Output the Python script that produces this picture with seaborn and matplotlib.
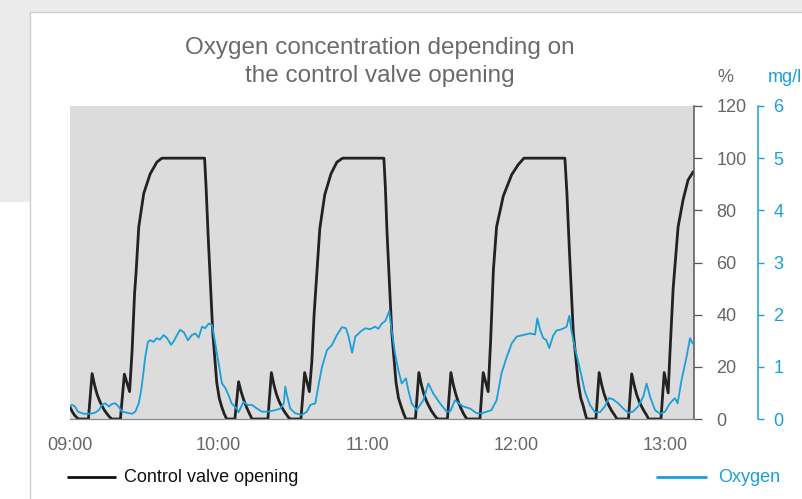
import matplotlib
matplotlib.use("Agg")
import matplotlib.pyplot as plt
from matplotlib.patches import Rectangle
from matplotlib.lines import Line2D
import seaborn as sns
import pandas as pd

# valve opening (%), minutes after 09:00
valve_min = [
    0.0, 1.0, 2.0, 3.0, 3.7, 7.6, 9.1, 10.1, 11.1, 12.1, 13.1, 14.1, 15.1, 16.1, 17.1,
    20.5, 22.1, 24.2, 25.2, 26.2, 26.8, 27.9, 29.9, 32.5, 35.2, 37.2, 54.4, 55.0, 55.8,
    56.7, 57.7, 59.3, 60.3, 61.3, 62.3, 63.3,
    66.6, 68.1, 69.1, 70.1, 71.1, 72.1, 73.0, 73.5, 79.9, 81.3, 82.3, 83.3, 84.3, 85.3,
    86.3, 87.3, 88.3, 89.0, 93.2, 94.7, 96.6, 97.6, 98.5, 99.7, 100.8, 102.8, 105.3,
    107.7, 110.0, 126.6, 127.2, 127.9, 128.8, 129.8, 131.5, 132.5, 133.6, 134.6, 135.5,
    139.3, 140.7, 141.7, 142.7, 143.7, 144.7, 145.7, 146.7, 147.7, 148.4, 152.2, 153.6,
    154.6, 155.6, 156.6, 157.6, 158.6, 159.6, 160.2, 165.3, 166.6, 168.6, 169.6, 170.7,
    172.0, 174.7, 178.1, 180.7, 183.0, 199.5, 200.3, 201.3, 201.9, 202.9, 204.9, 205.9,
    206.9, 207.7, 208.3,
    212.0, 213.3, 214.3, 215.3, 216.3, 217.3, 218.3, 219.3, 220.3, 220.8, 225.1, 226.4,
    227.4, 228.4, 229.4, 230.4, 231.4, 232.4, 233.2, 238.2, 239.5, 241.1, 241.8, 243.1,
    245.1, 247.1, 249.1, 251.2,
]
valve_pct = [
    5, 3, 1.5, 0.5, 0, 0, 17.4, 13, 9.5, 7, 5, 3.3, 2, 0.8, 0,
    0, 17.2, 10.5, 26, 48, 56, 73.7, 86.5, 94, 98.5, 100, 100, 89, 71,
    53, 33, 14, 8, 4.7, 2, 0,
    0, 14.3, 10.5, 7.5, 5, 2.8, 1, 0, 0, 17.8, 13.2, 9.6, 7, 5,
    3.2, 1.8, 0.5, 0, 0, 17.8, 10.5, 22, 40, 57.5, 73, 86, 94,
    98.5, 100, 100, 89, 71, 53, 33, 14, 8, 4.7, 2, 0,
    0, 17.8, 13.2, 9.6, 7, 5, 3.2, 1.8, 0.5, 0, 0, 17.8,
    13, 9.4, 6.5, 4.2, 2.2, 0.6, 0, 0, 17.8, 10.5, 30, 57,
    73.7, 85.5, 93.7, 97.5, 100, 100, 87, 65, 53, 33, 13.8, 8,
    5, 2, 0,
    0, 17.8, 13.2, 9.6, 7, 5, 3.2, 1.8, 0.3, 0, 0, 17.3,
    13, 9.4, 6.8, 4.8, 3, 1.5, 0, 0, 17.8, 10, 25, 50,
    73.7, 84, 91.6, 94.8,
]

# oxygen (mg/l), minutes after 09:00
oxy_min = [
    0.0, 1.0, 2.2, 3.4, 5.8, 8.3, 10.3, 11.8, 13.1, 14.4, 15.9, 17.1, 18.4, 19.8, 21.1,
    23.2, 25.2, 26.5, 27.9, 28.9, 29.9, 30.5, 31.6, 32.5, 33.8, 35.2, 36.4, 37.9, 39.3,
    40.9, 42.1, 43.3, 44.6, 46.1, 47.7, 49.3, 50.7, 52.0, 53.4, 54.6, 56.1, 57.4, 58.7,
    60.1, 61.4, 62.7, 64.1, 65.3, 67.3, 68.1, 70.1, 71.7, 73.5, 75.5, 77.5, 79.9, 82.9,
    84.9, 86.3, 86.9, 87.6, 88.9, 90.9, 93.6, 95.6, 97.0, 99.0, 100.3, 101.7, 103.7,
    105.7, 107.7, 109.7, 111.3, 112.4, 113.8, 115.1, 117.1, 119.1, 121.0, 123.1, 124.4,
    125.8, 127.2, 128.8, 129.7, 131.1, 132.4, 133.8, 135.5, 136.4, 137.8, 139.8, 142.5,
    144.5, 146.5, 149.2, 151.9, 153.4, 155.2, 156.8, 158.6, 161.3, 164.0, 166.1, 168.0,
    169.9, 172.0, 174.0, 176.1, 178.1, 180.1, 182.7, 185.4, 187.5, 188.4, 189.5, 190.8,
    191.9, 193.2, 194.8, 196.2, 197.5, 199.1, 200.2, 201.3, 202.2, 203.6, 205.6, 207.6,
    209.6, 211.6, 213.6, 215.6, 217.2, 218.8, 221.0, 223.0, 225.0, 226.9, 229.0, 231.1,
    232.4, 233.8, 235.8, 237.8, 239.8, 241.8, 243.8, 244.9, 246.5, 248.5, 249.9, 250.9,
]
oxy_mgl = [
    0.24, 0.27, 0.24, 0.14, 0.10, 0.10, 0.12, 0.17, 0.27, 0.30, 0.24, 0.29, 0.30, 0.24, 0.14,
    0.12, 0.10, 0.14, 0.30, 0.56, 0.94, 1.19, 1.48, 1.51, 1.48, 1.55, 1.52, 1.61, 1.55,
    1.42, 1.50, 1.61, 1.71, 1.66, 1.51, 1.61, 1.64, 1.56, 1.77, 1.74, 1.83, 1.80, 1.45,
    1.05, 0.68, 0.60, 0.45, 0.30, 0.20, 0.13, 0.33, 0.27, 0.27, 0.20, 0.14, 0.14, 0.17,
    0.20, 0.30, 0.62, 0.45, 0.20, 0.11, 0.08, 0.14, 0.27, 0.30, 0.65, 1.00, 1.32,
    1.42, 1.61, 1.76, 1.74, 1.58, 1.27, 1.58, 1.67, 1.74, 1.72, 1.77, 1.73,
    1.83, 1.88, 2.07, 1.71, 1.26, 0.94, 0.68, 0.78, 0.56, 0.30, 0.17, 0.36,
    0.68, 0.49, 0.30, 0.14, 0.15, 0.36, 0.30, 0.24, 0.20, 0.11, 0.11, 0.14,
    0.17, 0.36, 0.88, 1.19, 1.45, 1.58, 1.61, 1.64, 1.62, 1.93, 1.71, 1.55,
    1.52, 1.36, 1.60, 1.70, 1.71, 1.74, 1.77, 1.98, 1.68, 1.35, 0.95, 0.52,
    0.27, 0.13, 0.13, 0.24, 0.40, 0.38, 0.30, 0.20, 0.12, 0.14, 0.24, 0.43,
    0.68, 0.43, 0.17, 0.10, 0.14, 0.30, 0.40, 0.30, 0.75, 1.19, 1.55, 1.45,
]

hour_ticks = [0, 60, 120, 180, 240]
hour_labels = ["09:00", "10:00", "11:00", "12:00", "13:00"]
pct_ticks = [0, 20, 40, 60, 80, 100, 120]
mgl_ticks = [0, 1, 2, 3, 4, 5, 6]

BLUE = "#1a9fd9"
GREY_TXT = "#666666"

sns.set_style("white")
plt.rcParams["font.family"] = ["Liberation Sans", "DejaVu Sans"]

W, H = 802, 499
fig = plt.figure(figsize=(W / 100, H / 100), dpi=100, facecolor="white")

# page background + card
fig.patches.append(Rectangle((0, 1 - 202 / H), 1, 202 / H, transform=fig.transFigure,
                             facecolor="#ebebeb", edgecolor="none", zorder=-3))
fig.patches.append(Rectangle((30.5 / W, -0.05), 1, 1.05 - 12 / H, transform=fig.transFigure,
                             facecolor="white", edgecolor="#cfcfcf", linewidth=1, zorder=-2))

ax = fig.add_axes([69.5 / W, 1 - 419 / H, (694 - 69.5) / W, (419 - 106) / H])
ax.set_facecolor("#dcdcdc")
ax2 = ax.twinx()

valve = pd.DataFrame({"t": valve_min, "v": valve_pct})
oxy = pd.DataFrame({"t": oxy_min, "o": oxy_mgl})

sns.lineplot(data=valve, x="t", y="v", ax=ax, color="#222222", linewidth=2.0,
             estimator=None, sort=False, solid_joinstyle="round")
ax.set_xlim(0, 251.5)
ax.set_ylim(0, 120)
ax.set_xlabel("")
ax.set_ylabel("")

for s in ["left", "top"]:
    ax.spines[s].set_visible(False)
ax.spines["right"].set_color("#555555")
ax.spines["right"].set_linewidth(1.1)
ax.spines["bottom"].set_color("#8a8a8a")
ax.spines["bottom"].set_linewidth(0.9)

ax.set_xticks(hour_ticks)
ax.set_xticklabels(hour_labels)
ax.tick_params(axis="x", direction="out", length=6, width=0.8, color="#999999",
               pad=7, labelsize=13, labelcolor=GREY_TXT)
ax.yaxis.tick_right()
ax.set_yticks(pct_ticks)
ax.tick_params(axis="y", which="both", left=False, labelleft=False, right=True,
               labelright=True, direction="out", length=6, width=0.9,
               color="#555555", pad=10, labelsize=13, labelcolor=GREY_TXT)

sns.lineplot(data=oxy, x="t", y="o", ax=ax2, color=BLUE, linewidth=1.3,
             estimator=None, sort=False)
ax2.set_ylim(0, 6)
ax2.set_xlim(0, 251.5)
ax2.set_ylabel("")
ax2.set_yticks(mgl_ticks)
for s in ["left", "top", "bottom"]:
    ax2.spines[s].set_visible(False)
ax2.spines["right"].set_position(("outward", 46))
ax2.spines["right"].set_color(BLUE)
ax2.spines["right"].set_linewidth(1.1)
ax2.tick_params(axis="y", direction="out", length=4, width=1, color=BLUE, pad=7,
                labelsize=13, labelcolor=BLUE)

# axis unit labels
fig.text(717 / W, 1 - 78 / H, "%", fontsize=13, color=GREY_TXT, va="center", ha="left")
fig.text(768 / W, 1 - 78 / H, "mg/l", fontsize=13, color=BLUE, va="center", ha="left")

# title
fig.text(380 / W, 1 - 62 / H, "Oxygen concentration depending on\nthe control valve opening",
         ha="center", va="center", fontsize=17.5, color="#6a6a6a", linespacing=1.4)

# legend
ly = 1 - 477 / H
fig.lines.append(Line2D([68 / W, 115 / W], [ly, ly], transform=fig.transFigure,
                        color="#111111", linewidth=2))
fig.text(124 / W, ly, "Control valve opening", fontsize=13, color="#111111",
         va="center", ha="left")
fig.lines.append(Line2D([657 / W, 706 / W], [ly, ly], transform=fig.transFigure,
                        color=BLUE, linewidth=2))
fig.text(718 / W, ly, "Oxygen", fontsize=13, color=BLUE, va="center", ha="left")

fig.savefig("out.png", dpi=100, facecolor=fig.get_facecolor())
